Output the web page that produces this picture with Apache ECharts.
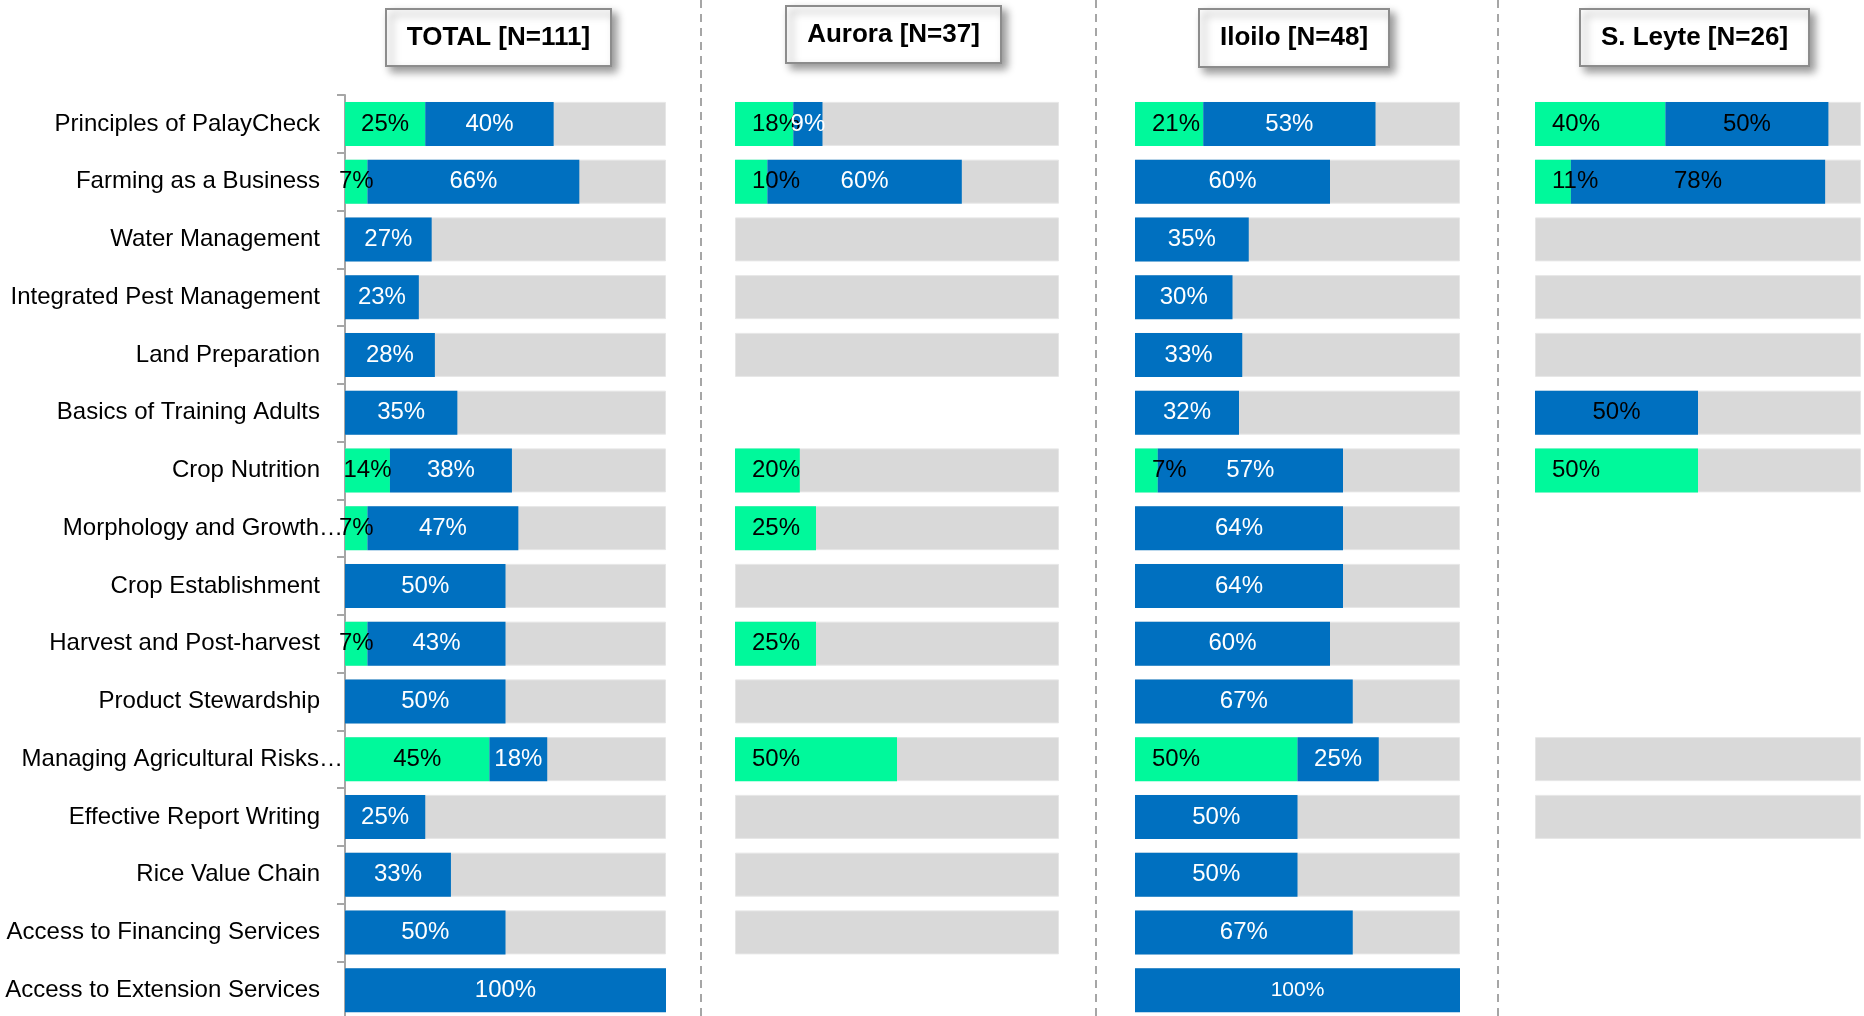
<!DOCTYPE html>
<html><head><meta charset="utf-8">
<script src="https://cdn.jsdelivr.net/npm/echarts@6/dist/echarts.min.js"></script>
<style>html,body{margin:0;padding:0;background:#fff}#c{width:1864px;height:1016px}</style>
</head><body><div id="c"></div>
<script>
const categories = ['Principles of PalayCheck','Farming as a Business','Water Management','Integrated Pest Management','Land Preparation','Basics of Training Adults','Crop Nutrition','Morphology and Growth…','Crop Establishment','Harvest and Post-harvest','Product Stewardship','Managing Agricultural Risks…','Effective Report Writing','Rice Value Chain','Access to Financing Services','Access to Extension Services'];
const panelTitles = ['TOTAL [N=111]','Aurora [N=37]','Iloilo [N=48]','S. Leyte [N=26]'];
const N = null;
const totalGreen = [25,7,N,N,N,N,14,7,N,7,N,45,N,N,N,N];
const totalBlue  = [40,66,27,23,28,35,38,47,50,43,50,18,25,33,50,100];
const totalBase  = [100,100,100,100,100,100,100,100,100,100,100,100,100,100,100,100];
const auroraGreen = [18,10,N,N,N,N,20,25,N,25,N,50,N,N,N,N];
const auroraBlue  = [9,60,N,N,N,N,N,N,N,N,N,N,N,N,N,N];
const auroraBase  = [100,100,100,100,100,N,100,100,100,100,100,100,100,100,100,N];
const iloiloGreen = [21,N,N,N,N,N,7,N,N,N,N,50,N,N,N,N];
const iloiloBlue  = [53,60,35,30,33,32,57,64,64,60,67,25,50,50,67,100];
const iloiloBase  = [100,100,100,100,100,100,100,100,100,100,100,100,100,100,100,100];
const leyteGreen = [40,11,N,N,N,N,50,N,N,N,N,N,N,N,N,N];
const leyteBlue  = [50,78,N,N,N,50,N,N,N,N,N,N,N,N,N,N];
const leyteBase  = [100,100,100,100,100,100,100,N,N,N,N,100,100,N,N,N];

const panels = [
  {green: totalGreen, blue: totalBlue, base: totalBase, left: 345, width: 321, greenPos: 'inside', blueColor: '#fff', box: [386, 9, 225, 57]},
  {green: auroraGreen, blue: auroraBlue, base: auroraBase, left: 735, width: 324, greenPos: 'insideLeft', blueColor: '#fff', box: [786, 6, 215, 57]},
  {green: iloiloGreen, blue: iloiloBlue, base: iloiloBase, left: 1135, width: 325, greenPos: 'insideLeft', blueColor: '#fff', box: [1199, 9, 190, 58], smallFull: true},
  {green: leyteGreen, blue: leyteBlue, base: leyteBase, left: 1535, width: 326, greenPos: 'insideLeft', blueColor: '#000', box: [1580, 9, 229, 57]}
];

const FONT = "'Liberation Sans',Arial,sans-serif";
const GREEN = '#00F99B', BLUE = '#0070C0', GRAY = '#D9D9D9';
const TOP = 95, HEIGHT = 924, BARW = 44, FS = 24;

const grid = [], xAxis = [], yAxis = [], series = [], graphic = [];
panels.forEach((p, i) => {
  grid.push({left: p.left, top: TOP, width: p.width, height: HEIGHT, containLabel: false, outerBoundsMode: 'none'});
  xAxis.push({gridIndex: i, type: 'value', min: 0, max: 100, show: false});
  yAxis.push({
    gridIndex: i, type: 'category', data: categories, inverse: true,
    show: i === 0,
    axisLine: {show: true, lineStyle: {color: '#a6a6a6', width: 2}},
    axisTick: {show: true, length: 8, lineStyle: {color: '#a6a6a6', width: 2}},
    axisLabel: {fontFamily: FONT, fontSize: FS, color: '#000', margin: 2, overflow: 'none',
      formatter: v => v.endsWith('…') ? v : v + '{p| }',
      rich: {p: {width: 23, fontFamily: FONT, fontSize: FS}}}
  });
  const common = {type: 'bar', xAxisIndex: i, yAxisIndex: i, barWidth: BARW, barGap: '-100%', silent: true};
  series.push(Object.assign({}, common, {
    name: 'base' + i, data: p.base, itemStyle: {color: GRAY, borderColor: '#e6e6e6', borderWidth: 1}, z: 1
  }));
  series.push(Object.assign({}, common, {
    name: 'green' + i, stack: 's' + i, data: p.green, itemStyle: {color: GREEN}, z: 2,
    label: {show: true, position: p.greenPos, distance: 17, fontFamily: FONT, fontSize: FS, color: '#000',
      overflow: 'none', formatter: d => d.value + '%'}
  }));
  series.push(Object.assign({}, common, {
    name: 'blue' + i, stack: 's' + i, z: 2,
    data: p.blue.map(v => (p.smallFull && v === 100) ? {value: v, label: {fontSize: 21}} : v),
    itemStyle: {color: BLUE},
    label: {show: true, position: 'inside', fontFamily: FONT, fontSize: FS, color: p.blueColor,
      overflow: 'none', formatter: d => d.value + '%'}
  }));
  const b = p.box;
  graphic.push({type: 'rect', shape: {x: b[0], y: b[1], width: b[2], height: b[3]},
    style: {fill: '#fff', stroke: '#8c8c8c', lineWidth: 2, shadowBlur: 8, shadowOffsetX: 5, shadowOffsetY: 5, shadowColor: 'rgba(0,0,0,0.4)'}, z: 10});
  graphic.push({type: 'text', x: b[0] + b[2] / 2, y: b[1] + b[3] / 2,
    style: {text: panelTitles[i], fontFamily: FONT, fontWeight: 'bold', fontSize: 26, fill: '#000', align: 'center', verticalAlign: 'middle'}, z: 11});
});
[701, 1096, 1498].forEach(x => {
  graphic.push({type: 'line', shape: {x1: x, y1: 0, x2: x, y2: 1016},
    style: {stroke: '#a6a6a6', lineWidth: 2, lineDash: [8, 6]}, z: 0});
});

const chart = echarts.init(document.getElementById('c'), null, {renderer: 'canvas'});
chart.setOption({animation: false, backgroundColor: '#fff', grid, xAxis, yAxis, series, graphic});
</script></body></html>
